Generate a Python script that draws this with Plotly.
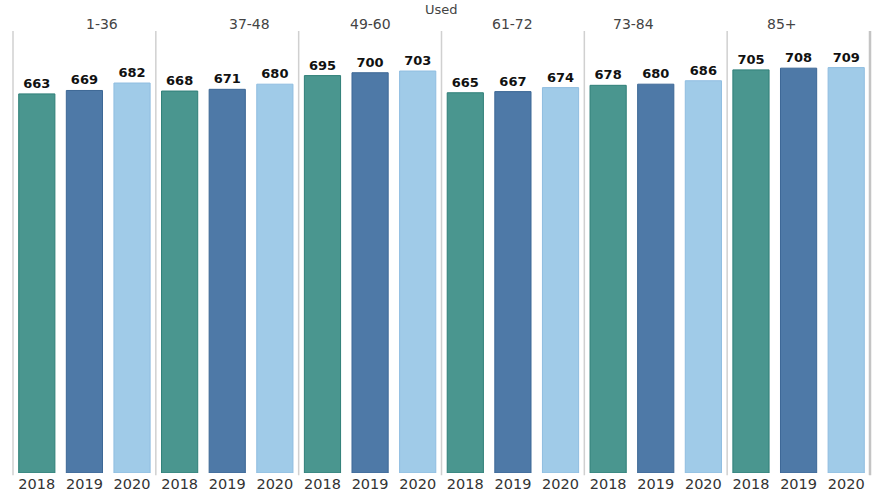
import plotly.graph_objects as go
from plotly.subplots import make_subplots

groups = ["1-36", "37-48", "49-60", "61-72", "73-84", "85+"]
years = ["2018", "2019", "2020"]
values = {
    "1-36": [663, 669, 682],
    "37-48": [668, 671, 680],
    "49-60": [695, 700, 703],
    "61-72": [665, 667, 674],
    "73-84": [678, 680, 686],
    "85+": [705, 708, 709],
}
colors = ["#4a968f", "#4e79a7", "#a0cbe8"]
edges = ["#2f7f78", "#3d6896", "#8fbde0"]
header_title = "Used"

n = len(groups)
fig = make_subplots(rows=1, cols=n, shared_yaxes=True, horizontal_spacing=0)

for i, g in enumerate(groups):
    fig.add_trace(
        go.Bar(
            x=years,
            y=values[g],
            marker=dict(color=colors, line=dict(color=edges, width=1)),
            text=[str(v) for v in values[g]],
            textposition="outside",
            textfont=dict(family="DejaVu Sans", size=13, color="#111111"),
            texttemplate="<b>%{text}</b>",
            cliponaxis=False,
            showlegend=False,
            hoverinfo="skip",
        ),
        row=1,
        col=i + 1,
    )
    fig.update_xaxes(
        type="category",
        range=[-0.5, 2.5],
        showgrid=False,
        showline=False,
        zeroline=False,
        automargin=False,
        ticks="",
        tickfont=dict(family="DejaVu Sans", size=14.5, color="#333333"),
        row=1,
        col=i + 1,
    )
    fig.add_annotation(
        x=(i + 0.5) / n,
        y=1.0,
        xref="paper",
        yref="paper",
        text=g,
        showarrow=False,
        yanchor="bottom",
        yshift=-3,
        font=dict(family="DejaVu Sans", size=14, color="#444444"),
    )

for i in range(n + 1):
    fig.add_shape(
        type="line",
        xref="paper",
        yref="paper",
        x0=i / n,
        x1=i / n,
        y0=-0.005,
        y1=1.0,
        line=dict(color="#d0d0d0" if i < n else "#c4c4c4", width=1.5 if i < n else 2.5),
    )

fig.add_annotation(
    x=0.5,
    y=1.0,
    xref="paper",
    yref="paper",
    text=header_title,
    showarrow=False,
    yanchor="bottom",
    yshift=12,
    font=dict(family="DejaVu Sans", size=13, color="#444444"),
)

fig.update_yaxes(range=[0, 773], visible=False, showgrid=False, zeroline=False, automargin=False)

fig.update_layout(
    width=880,
    height=495,
    margin=dict(l=13, r=10, t=31, b=22),
    paper_bgcolor="white",
    plot_bgcolor="white",
    bargap=0.24,
)

fig.write_html(
    "out.html",
    config={"displayModeBar": False},
    post_script="document.body.style.margin='0';",
)
